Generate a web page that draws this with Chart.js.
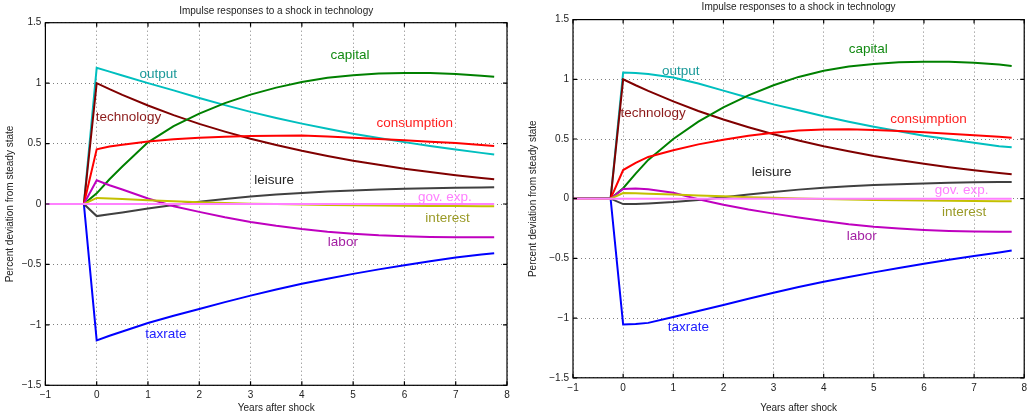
<!DOCTYPE html>
<html>
<head>
<meta charset="utf-8">
<title>Impulse responses to a shock in technology</title>
<script src="https://cdn.jsdelivr.net/npm/chart.js@4.4.1/dist/chart.umd.min.js"></script>
<style>
    html, body { margin: 0; padding: 0; background: #fff; }
    .panel { position: absolute; top: 0; height: 418px; }
    #panelA { left: 0; width: 515px; }
    #panelB { left: 515px; width: 516px; }
</style>
</head>
<body>
<div class="panel" id="panelA"><canvas id="chartA" width="515" height="418"></canvas></div>
<div class="panel" id="panelB"><canvas id="chartB" width="516" height="418"></canvas></div>
<script>
'use strict';

var years = [-1, -0.5, -0.25, 0, 0.25, 0.5, 1, 1.5, 2, 2.5, 3, 3.5, 4, 4.5, 5, 5.5, 6, 6.5, 7, 7.5, 7.75];
var xTickValues = [-1, 0, 1, 2, 3, 4, 5, 6, 7, 8];
var yTickValues = [-1.5, -1, -0.5, 0, 0.5, 1, 1.5];

// left panel
var technologyA = [0, 0, 0, 1, 0.95, 0.903, 0.815, 0.735, 0.663, 0.599, 0.54, 0.488, 0.44, 0.397, 0.358, 0.324, 0.292, 0.264, 0.238, 0.215, 0.204];
var outputA = [0, 0, 0, 1.127, 1.095, 1.063, 1.0, 0.94, 0.877, 0.818, 0.762, 0.712, 0.665, 0.622, 0.582, 0.546, 0.512, 0.48, 0.45, 0.423, 0.41];
var capitalA = [0, 0, 0, 0.088, 0.205, 0.31, 0.51, 0.645, 0.748, 0.835, 0.905, 0.963, 1.01, 1.045, 1.066, 1.079, 1.084, 1.083, 1.076, 1.062, 1.052];
var consumptionA = [0, 0, 0, 0.452, 0.475, 0.49, 0.518, 0.536, 0.548, 0.557, 0.562, 0.565, 0.566, 0.559, 0.549, 0.538, 0.527, 0.516, 0.504, 0.489, 0.48];
var leisureA = [0, 0, 0, -0.1, -0.085, -0.07, -0.037, -0.008, 0.018, 0.041, 0.062, 0.078, 0.092, 0.103, 0.112, 0.12, 0.126, 0.131, 0.135, 0.137, 0.138];
var govExpA = [0, 0, 0, 0, 0, 0, 0, 0, 0, 0, 0, 0, 0, 0, 0, 0, 0, 0, 0, 0, 0];
var interestA = [0, 0, 0, 0.05, 0.046, 0.042, 0.031, 0.022, 0.014, 0.008, 0.003, -0.001, -0.005, -0.008, -0.011, -0.013, -0.015, -0.016, -0.017, -0.018, -0.019];
var laborA = [0, 0, 0, 0.196, 0.155, 0.12, 0.045, -0.018, -0.065, -0.11, -0.148, -0.18, -0.207, -0.229, -0.246, -0.259, -0.267, -0.272, -0.275, -0.276, -0.276];
var taxrateA = [0, 0, 0, -1.128, -1.09, -1.055, -0.985, -0.925, -0.868, -0.812, -0.758, -0.708, -0.66, -0.618, -0.578, -0.541, -0.506, -0.473, -0.443, -0.417, -0.407];

// right panel
var technologyB = [0, 0, 0, 1, 0.95, 0.903, 0.815, 0.735, 0.663, 0.599, 0.54, 0.488, 0.44, 0.397, 0.358, 0.324, 0.292, 0.264, 0.238, 0.215, 0.204];
var outputB = [0, 0, 0, 1.056, 1.053, 1.045, 1.015, 0.965, 0.905, 0.845, 0.79, 0.74, 0.69, 0.645, 0.603, 0.565, 0.528, 0.497, 0.468, 0.44, 0.43];
var capitalB = [0, 0, 0, 0.088, 0.21, 0.325, 0.5, 0.645, 0.765, 0.865, 0.95, 1.02, 1.072, 1.107, 1.128, 1.142, 1.148, 1.146, 1.139, 1.123, 1.112];
var consumptionB = [0, 0, 0, 0.24, 0.3, 0.35, 0.405, 0.455, 0.493, 0.527, 0.553, 0.571, 0.58, 0.581, 0.576, 0.567, 0.556, 0.544, 0.531, 0.518, 0.511];
var leisureB = [0, 0, 0, -0.045, -0.044, -0.04, -0.028, -0.01, 0.012, 0.035, 0.057, 0.076, 0.092, 0.105, 0.115, 0.122, 0.128, 0.133, 0.137, 0.139, 0.14];
var govExpB = [0, 0, 0, 0, 0, 0, 0, 0, 0, 0, 0, 0, 0, 0, 0, 0, 0, 0, 0, 0, 0];
var interestB = [0, 0, 0, 0.047, 0.045, 0.042, 0.035, 0.027, 0.02, 0.013, 0.007, 0.002, -0.003, -0.007, -0.01, -0.013, -0.015, -0.017, -0.019, -0.021, -0.022];
var laborB = [0, 0, 0, 0.081, 0.085, 0.08, 0.05, -0.005, -0.05, -0.09, -0.125, -0.158, -0.187, -0.213, -0.234, -0.25, -0.262, -0.27, -0.274, -0.276, -0.277];
var taxrateB = [0, 0, 0, -1.054, -1.05, -1.04, -0.99, -0.94, -0.89, -0.838, -0.787, -0.74, -0.695, -0.655, -0.617, -0.58, -0.545, -0.512, -0.48, -0.45, -0.433];

var FONT = '"Liberation Sans", Arial, Helvetica, sans-serif';

// first entry is drawn on top
var seriesStyle = [
    { key: 'gov. exp.', line: '#ff80ff', text: '#ff80ff' },
    { key: 'interest', line: '#c4c000', text: '#9a9a26' },
    { key: 'labor', line: '#bf00bf', text: '#a31fa3' },
    { key: 'leisure', line: '#404040', text: '#262626' },
    { key: 'taxrate', line: '#0000ff', text: '#2020ff' },
    { key: 'consumption', line: '#ff0000', text: '#ff1f1f' },
    { key: 'capital', line: '#008000', text: '#138a13' },
    { key: 'technology', line: '#800000', text: '#8c1a1a' },
    { key: 'output', line: '#00bfbf', text: '#1a9999' }
];

function toPoints(values) {
    return years.map(function (x, i) {
        return { x: x, y: values[i] };
    });
}

function minusSign(v) {
    return String(v).replace('-', '\u2212');
}

function makePanel(canvasId, series, panel) {
    var datasets = seriesStyle.map(function (s) {
        return {
            label: s.key,
            data: toPoints(series[s.key]),
            borderColor: s.line,
            borderWidth: 2,
            pointRadius: 0,
            tension: 0,
            fill: false
        };
    });

    var decorations = {
        id: 'decorations',
        afterDatasetsDraw: function (chart) {
            var ctx = chart.ctx;
            var a = chart.chartArea;
            var sx = chart.scales.x;
            var sy = chart.scales.y;
            ctx.save();
            ctx.strokeStyle = '#000';
            ctx.lineWidth = 1.2;
            ctx.strokeRect(a.left, a.top, a.right - a.left, a.bottom - a.top);
            ctx.beginPath();
            xTickValues.forEach(function (v) {
                var px = sx.getPixelForValue(v);
                ctx.moveTo(px, a.bottom); ctx.lineTo(px, a.bottom - 4);
                ctx.moveTo(px, a.top); ctx.lineTo(px, a.top + 4);
            });
            yTickValues.forEach(function (v) {
                var py = sy.getPixelForValue(v);
                ctx.moveTo(a.left, py); ctx.lineTo(a.left + 4, py);
                ctx.moveTo(a.right, py); ctx.lineTo(a.right - 4, py);
            });
            ctx.stroke();

            ctx.textAlign = 'center';
            ctx.textBaseline = 'middle';
            ctx.font = '13.5px ' + FONT;
            seriesStyle.forEach(function (s) {
                var spot = panel.labelSpots[s.key];
                ctx.fillStyle = s.text;
                ctx.fillText(s.key, sx.getPixelForValue(spot[0]), sy.getPixelForValue(spot[1]));
            });

            ctx.font = '10px ' + FONT;
            ctx.fillStyle = '#222';
            ctx.fillText('Impulse responses to a shock in technology', (a.left + a.right) / 2, panel.titleY);
            ctx.restore();
        }
    };

    return new Chart(document.getElementById(canvasId), {
        type: 'line',
        data: { datasets: datasets },
        options: {
            responsive: false,
            animation: false,
            events: [],
            layout: { padding: panel.padding },
            plugins: {
                legend: { display: false },
                tooltip: { enabled: false },
                title: { display: false }
            },
            scales: {
                x: {
                    type: 'linear',
                    min: -1,
                    max: 8,
                    afterBuildTicks: function (scale) {
                        scale.ticks = xTickValues.map(function (v) { return { value: v }; });
                    },
                    afterFit: function (scale) {
                        scale.height = panel.xAxisHeight;
                    },
                    ticks: {
                        autoSkip: false,
                        maxRotation: 0,
                        padding: 4,
                        color: '#222',
                        font: { family: FONT, size: 10 },
                        callback: minusSign
                    },
                    grid: { color: 'rgba(0,0,0,0.5)', lineWidth: 1, drawTicks: false },
                    border: { display: false, dash: [1, 3] },
                    title: {
                        display: true,
                        text: 'Years after shock',
                        color: '#222',
                        font: { family: FONT, size: 10 },
                        padding: { top: 0, bottom: panel.xTitlePad }
                    }
                },
                y: {
                    type: 'linear',
                    min: -1.5,
                    max: 1.5,
                    afterBuildTicks: function (scale) {
                        scale.ticks = yTickValues.map(function (v) { return { value: v }; });
                    },
                    afterFit: function (scale) {
                        scale.width = panel.yAxisWidth;
                    },
                    ticks: {
                        autoSkip: false,
                        padding: 4,
                        color: '#222',
                        font: { family: FONT, size: 10 },
                        callback: minusSign
                    },
                    grid: { color: 'rgba(0,0,0,0.5)', lineWidth: 1, drawTicks: false },
                    border: { display: false, dash: [1, 3] },
                    title: {
                        display: true,
                        text: 'Percent deviation from steady state',
                        color: '#222',
                        font: { family: FONT, size: 10 },
                        padding: { top: panel.yTitlePad, bottom: 0 }
                    }
                }
            }
        },
        plugins: [decorations]
    });
}

makePanel('chartA', {
    'technology': technologyA,
    'output': outputA,
    'capital': capitalA,
    'consumption': consumptionA,
    'leisure': leisureA,
    'gov. exp.': govExpA,
    'interest': interestA,
    'labor': laborA,
    'taxrate': taxrateA
}, {
    padding: { left: 0, top: 22.7, right: 8, bottom: 0 },
    yAxisWidth: 45.4,
    xAxisHeight: 32.7,
    xTitlePad: 4,
    yTitlePad: 4,
    titleY: 11,
    labelSpots: {
        'capital': [4.94, 1.23],
        'output': [1.2, 1.07],
        'technology': [0.62, 0.714],
        'consumption': [6.2, 0.664],
        'leisure': [3.46, 0.196],
        'gov. exp.': [6.79, 0.058],
        'interest': [6.84, -0.12],
        'labor': [4.8, -0.314],
        'taxrate': [1.35, -1.077]
    }
});

makePanel('chartB', {
    'technology': technologyB,
    'output': outputB,
    'capital': capitalB,
    'consumption': consumptionB,
    'leisure': leisureB,
    'gov. exp.': govExpB,
    'interest': interestB,
    'labor': laborB,
    'taxrate': taxrateB
}, {
    padding: { left: 0, top: 19.6, right: 2.5, bottom: 0 },
    yAxisWidth: 58,
    xAxisHeight: 40.2,
    xTitlePad: 3.6,
    yTitlePad: 12,
    titleY: 7.5,
    labelSpots: {
        'capital': [4.89, 1.25],
        'output': [1.15, 1.07],
        'technology': [0.6, 0.715],
        'consumption': [6.09, 0.665],
        'leisure': [2.96, 0.221],
        'gov. exp.': [6.75, 0.073],
        'interest': [6.8, -0.114],
        'labor': [4.76, -0.312],
        'taxrate': [1.3, -1.08]
    }
});
</script>
</body>
</html>
